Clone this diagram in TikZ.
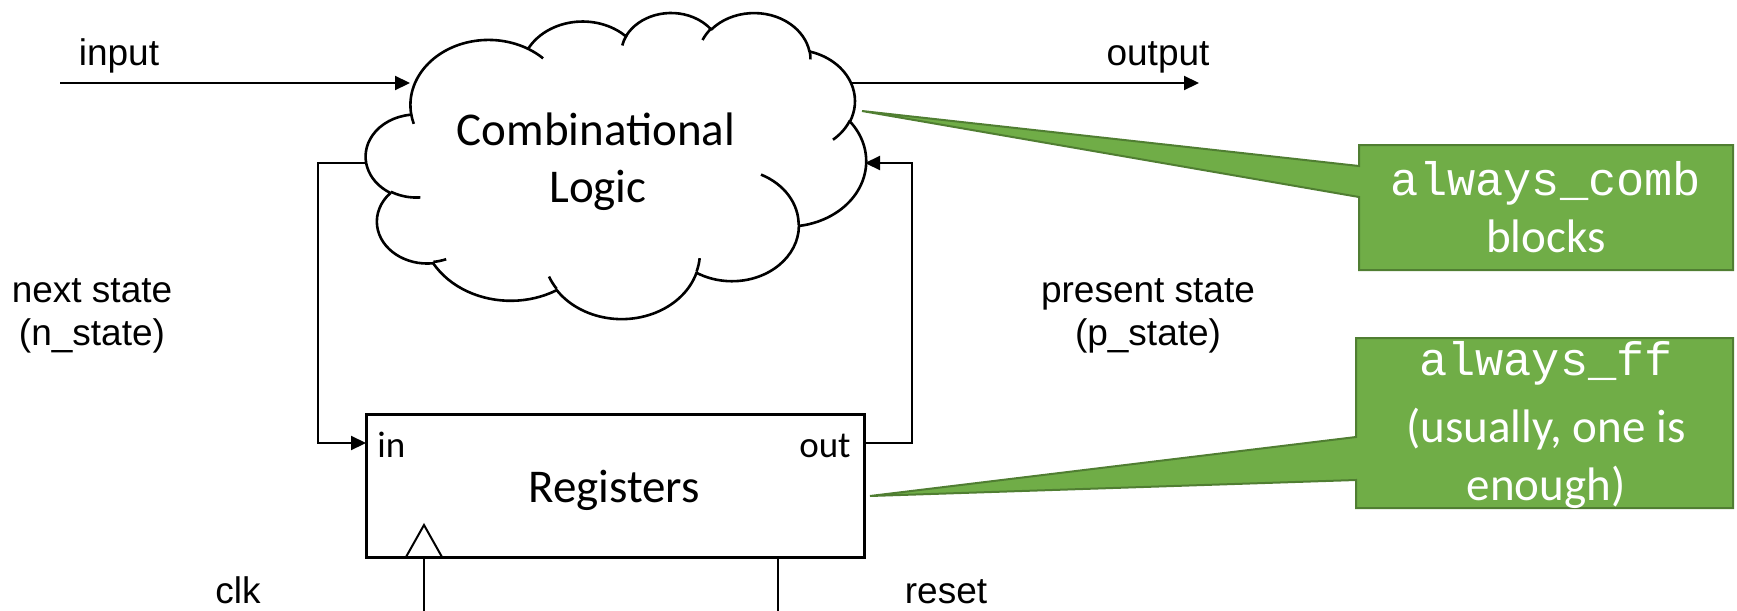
\documentclass[tikz,border=0pt]{standalone}
\usepackage{fontspec}
\setmainfont{Carlito}
\setmonofont{Liberation Mono}
\newfontfamily\arialfont{Liberation Sans}
\usetikzlibrary{arrows.meta}

\definecolor{calloutfill}{HTML}{70AD47}
\definecolor{calloutedge}{HTML}{507E32}

% Cloud lobes are elliptic arcs given by "visual" angles (the direction of the
% point seen from the centre); TikZ's arc wants parametric angles.
\newcommand\cloudseg[4]{%
  \pgfmathsetmacro\cldA{atan2((#1)*sin(#3),(#2)*cos(#3))}%
  \pgfmathsetmacro\cldB{atan2((#1)*sin((#3)+(#4)),(#2)*cos((#3)+(#4)))}%
  \pgfmathsetmacro\cldD{mod(720+(\cldB)-(\cldA),360)}%
  \global\let\cldA\cldA
  \global\let\cldD\cldD
}
% Short inner arcs that continue a lobe inside the cloud
\newcommand\cloudstub[6]{%
  \cloudseg{#3}{#4}{#5}{#6}%
  \draw[cloudline] (#1,#2) arc[start angle=\cldA, delta angle=\cldD, x radius=#3, y radius=#4];}

\begin{document}
\begin{tikzpicture}[x=0.5pt, y=-0.5pt,
  conn/.style={line width=1.1pt, line join=miter},
  arr/.style={-{Triangle[length=7.5pt,width=7pt]}},
  cloudline/.style={line width=1.3pt, line join=round},
  thin wire/.style={line width=0.6pt},
  regbox/.style={draw, line width=1.5pt, minimum width=249pt, minimum height=71.5pt, inner sep=0pt, outer sep=0pt},
  bigtxt/.style={font=\fontsize{23.5}{28}\selectfont, inner sep=0pt, anchor=base},
  monotxt/.style={font=\ttfamily\fontsize{23.5}{28}\selectfont, inner sep=0pt, anchor=base, text=white},
  portlbl/.style={font=\fontsize{18.5}{22}\selectfont, inner sep=0pt},
  sig/.style={font=\arialfont\fontsize{18.5}{22}\selectfont, inner sep=0pt, anchor=base},
  callout/.style={fill=calloutfill, draw=calloutedge, line width=1pt, line join=miter},
  cbox/.style={inner sep=0pt, outer sep=0pt}
]
\useasboundingbox (0,0) rectangle (1737,611);

% ---------- combinational logic cloud ----------
\begin{scope}[shift={(366,12)}, x=0.5787pt, y=-0.354167pt]
  \filldraw[cloudline, fill=white] (39.00,143.70)
    \pgfextra{\cloudseg{67.53}{91.90}{-190.4875}{123.7805}}
    arc[start angle=\cldA, delta angle=\cldD, x radius=67.53, y radius=91.90]
    \pgfextra{\cloudseg{53.33}{72.67}{-144.1024}{89.9452}}
    arc[start angle=\cldA, delta angle=\cldD, x radius=53.33, y radius=72.67]
    \pgfextra{\cloudseg{43.65}{59.45}{-145.8079}{99.7230}}
    arc[start angle=\cldA, delta angle=\cldD, x radius=43.65, y radius=59.45]
    \pgfextra{\cloudseg{48.57}{65.95}{-130.9861}{117.2417}}
    arc[start angle=\cldA, delta angle=\cldD, x radius=48.57, y radius=65.95]
    \pgfextra{\cloudseg{53.33}{72.73}{-78.7089}{109.0269}}
    arc[start angle=\cldA, delta angle=\cldD, x radius=53.33, y radius=72.73]
    \pgfextra{\cloudseg{67.75}{92.20}{-46.2673}{130.2690}}
    arc[start angle=\cldA, delta angle=\cldD, x radius=67.75, y radius=92.20]
    \pgfextra{\cloudseg{57.85}{78.67}{0.6250}{114.0333}}
    arc[start angle=\cldA, delta angle=\cldD, x radius=57.85, y radius=78.67]
    \pgfextra{\cloudseg{67.52}{92.15}{22.4516}{115.1726}}
    arc[start angle=\cldA, delta angle=\cldD, x radius=67.52, y radius=92.15]
    \pgfextra{\cloudseg{77.20}{105.43}{66.2426}{75.7110}}
    arc[start angle=\cldA, delta angle=\cldD, x radius=77.20, y radius=105.43]
    \pgfextra{\cloudseg{43.60}{59.18}{-274.9421}{146.7356}}
    arc[start angle=\cldA, delta angle=\cldD, x radius=43.60, y radius=59.18]
    \pgfextra{\cloudseg{43.45}{59.45}{-246.8285}{152.5189}}
    arc[start angle=\cldA, delta angle=\cldD, x radius=43.45, y radius=59.45]
    -- cycle;
  \cloudstub{46.93}{261.77}{43.45}{59.45}{86.7420}{26.4295}
  \cloudstub{69.28}{348.99}{43.60}{59.18}{73.6105}{11.4475}
  \cloudstub{164.78}{390.90}{67.52}{92.15}{137.6242}{14.0811}
  \cloudstub{288.27}{347.51}{67.52}{92.15}{6.4533}{15.9984}
  \cloudstub{341.29}{229.54}{57.85}{78.67}{-70.2924}{70.9174}
  \cloudstub{417.98}{153.54}{53.33}{72.73}{30.3180}{27.7515}
  \cloudstub{383.24}{54.26}{48.57}{65.95}{-13.7443}{14.8589}
  \cloudstub{290.78}{39.52}{48.57}{65.95}{-149.1815}{18.1954}
  \cloudstub{221.41}{47.20}{43.65}{59.45}{-163.4943}{17.6864}
  \cloudstub{140.00}{51.92}{67.53}{91.90}{-66.7070}{12.3194}
  \cloudstub{41.27}{157.89}{67.53}{91.90}{157.6544}{11.8582}
\end{scope}
\node[bigtxt] (combA) at (596,145) {Combinational};
\node[bigtxt] (combB) at (598,202) {Logic};

% cloud connection points
\coordinate (clIn)  at (410,83);
\coordinate (clOut) at (851,83);
\coordinate (clNS)  at (366,163);
\coordinate (clPS)  at (865,163);

% ---------- register block ----------
\node[regbox] (reg) at (615,485.5) {};
\node[bigtxt] (regtxt) at (614,502) {Registers};
\node[portlbl, anchor=base west] (pin) at (377,457) {in};
\node[portlbl, anchor=base east] (pout) at (851,457) {out};
\coordinate (regIn)  at (reg.west |- 0,443);
\coordinate (regOut) at (reg.east |- 0,443);
% clock input triangle
\coordinate (clkL) at (406,557);
\coordinate (clkR) at (442,557);
\coordinate (clkTop) at (424,525);
\draw[line width=1pt, line join=miter] (clkL) -- (clkTop) -- (clkR);

% ---------- signals ----------
\coordinate (inA)  at (60,83);
\coordinate (outA) at (1199,83);
\draw[conn, arr] (inA) -- (clIn);
\draw[conn, arr] (clOut) -- (outA);
\draw[conn, arr] (clNS) -- ++(-48,0) |- (regIn);
\draw[conn, arr] (regOut) -- ++(48,0) |- (clPS);

\coordinate (clkEnd) at (424,611);
\coordinate (rstEnd) at (778,611);
\draw[thin wire] (clkEnd) -- (clkEnd |- reg.south);
\draw[thin wire] (rstEnd) -- (rstEnd |- reg.south);

\node[sig] (lin)  at (119,65)  {input};
\node[sig] (lout) at (1158,65) {output};
\node[sig] (lns1) at (92,302)  {next state};
\node[sig] (lns2) at (92,345)  {(n\_state)};
\node[sig] (lps1) at (1148,302) {present state};
\node[sig] (lps2) at (1148,345) {(p\_state)};
\node[sig] (lclk) at (238,603) {clk};
\node[sig] (lrst) at (946,603) {reset};

% ---------- callouts ----------
\coordinate (tipA) at (862,111);
\coordinate (tipB) at (870,496);
\node[cbox, minimum width=187pt, minimum height=62.5pt] (cb1) at (1546,207.5) {};
\node[cbox, minimum width=188.5pt, minimum height=85pt] (cb2) at (1544.5,423) {};
\filldraw[callout] (cb1.north west) -- (cb1.north east) -- (cb1.south east)
  -- (cb1.south west) -- (cb1.west |- 0,197) -- (tipA) -- (cb1.west |- 0,166) -- cycle;
\filldraw[callout] (cb2.north west) -- (cb2.north east) -- (cb2.south east)
  -- (cb2.south west) -- (cb2.west |- 0,480) -- (tipB) -- (cb2.west |- 0,437) -- cycle;

\node[monotxt] (c1a) at (1546,195) {always\_comb};
\node[bigtxt, text=white] (c1b) at (1546,252) {blocks};
\node[monotxt] (c2a) at (1546,375) {always\_ff};
\node[bigtxt, text=white] (c2b) at (1546,442) {(usually, one is};
\node[bigtxt, text=white] (c2c) at (1546,500) {enough)};
\end{tikzpicture}
\end{document}
